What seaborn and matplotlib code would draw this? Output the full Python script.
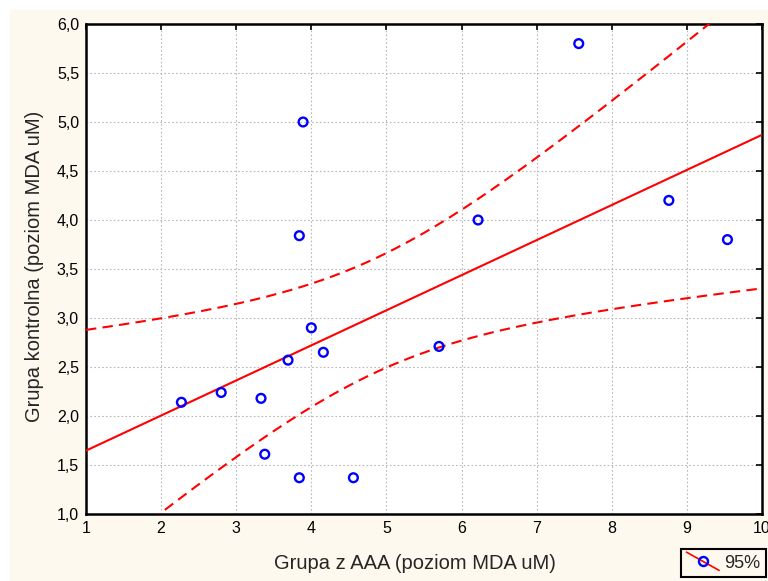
import numpy as np
import pandas as pd
import matplotlib
matplotlib.use("Agg")
import matplotlib.pyplot as plt
import seaborn as sns
from matplotlib.lines import Line2D
from matplotlib.legend_handler import HandlerBase
from matplotlib.patches import Rectangle
from matplotlib.ticker import FuncFormatter

# ---- data ----
x_aaa = [2.27, 2.80, 3.33, 3.38, 3.69, 3.84, 3.84, 3.89, 4.00, 4.16, 4.56, 5.70, 6.22, 7.56, 8.76, 9.54]
y_ctrl = [2.14, 2.24, 2.18, 1.61, 2.57, 1.37, 3.84, 5.00, 2.90, 2.65, 1.37, 2.71, 4.00, 5.80, 4.20, 3.80]
x_ticks = [1, 2, 3, 4, 5, 6, 7, 8, 9, 10]
y_ticks = [1.0, 1.5, 2.0, 2.5, 3.0, 3.5, 4.0, 4.5, 5.0, 5.5, 6.0]
x_label = "Grupa z AAA (poziom MDA uM)"
y_label = "Grupa kontrolna (poziom MDA uM)"
legend_label = "95%"

df = pd.DataFrame({"x": x_aaa, "y": y_ctrl})

# ---- linear fit and 95% confidence band for the mean ----
xa = np.asarray(x_aaa); ya = np.asarray(y_ctrl)
n = len(xa)
b1, b0 = np.polyfit(xa, ya, 1)
resid = ya - (b0 + b1 * xa)
s = np.sqrt(np.sum(resid ** 2) / (n - 2))
sxx = np.sum((xa - xa.mean()) ** 2)
t_crit = 2.1448  # t(0.975, df=14)
xg = np.linspace(1, 10, 200)
yg = b0 + b1 * xg
half = t_crit * s * np.sqrt(1.0 / n + (xg - xa.mean()) ** 2 / sxx)
fit_df = pd.DataFrame({"x": xg, "fit": yg, "lo": yg - half, "hi": yg + half})

# ---- figure ----
sns.set_style("white")
plt.rcParams["font.family"] = ["Liberation Sans", "DejaVu Sans"]
bg = "#FDF9EE"
fig = plt.figure(figsize=(7.68, 5.81), dpi=100, facecolor="white")
fig.patches.append(Rectangle((10 / 768, 0), 1, 1 - 10 / 581, transform=fig.transFigure,
                             facecolor=bg, edgecolor="none", zorder=-10))
ax = fig.add_axes([86 / 768, 1 - 514 / 581, (762 - 86) / 768, (514 - 24) / 581])
ax.set_facecolor("white")

sns.lineplot(data=fit_df, x="x", y="fit", ax=ax, color="red", lw=1.5, sort=False, zorder=3)
sns.lineplot(data=fit_df, x="x", y="lo", ax=ax, color="red", lw=1.5, sort=False, zorder=3)
ax.lines[-1].set_dashes((5, 3))
sns.lineplot(data=fit_df, x="x", y="hi", ax=ax, color="red", lw=1.5, sort=False, zorder=3)
ax.lines[-1].set_dashes((5, 3))
sns.scatterplot(data=df, x="x", y="y", ax=ax, marker="o", s=40, facecolor="none",
                edgecolor="blue", linewidth=1.7, zorder=4)

ax.set_xlim(1, 10)
ax.set_ylim(1.0, 6.0)
ax.set_xticks(x_ticks)
ax.set_yticks(y_ticks)
ax.yaxis.set_major_formatter(FuncFormatter(lambda v, p: f"{v:.1f}".replace(".", ",")))
ax.tick_params(direction="in", length=4, width=1.2, colors="black", labelsize=11.5,
               top=True, right=True, labelcolor="black", pad=5)
ax.grid(True, color="#b8b8b8", linestyle=(0, (1.5, 2)), linewidth=0.8)
for sp in ax.spines.values():
    sp.set_color("black")
    sp.set_linewidth(1.8)
ax.set_xlabel(x_label, fontsize=14.5)
ax.set_ylabel(y_label, fontsize=14.5)
ax.xaxis.set_label_coords((415 - 86) / 676, -(554 - 514) / 490)
ax.yaxis.set_label_coords(-(86 - 44) / 676, 0.5 - (266 - 269) / 490)


class DiagHandler(HandlerBase):
    def create_artists(self, legend, orig_handle, xdescent, ydescent, width, height, fontsize, trans):
        x0, x1 = -xdescent, -xdescent + width
        y0, y1 = -ydescent, -ydescent + height
        ln = Line2D([x0, x1], [y1 + 2, y0 - 2], color="red", lw=1.2, transform=trans)
        mk = Line2D([(x0 + x1) / 2], [(y0 + y1) / 2], marker="o", ms=6.5, mfc="none",
                    mec="blue", mew=1.7, linestyle="none", transform=trans)
        return [ln, mk]


handle = Line2D([], [], color="red")
leg = fig.legend([handle], [legend_label], handler_map={Line2D: DiagHandler()},
                 loc="lower right", bbox_to_anchor=(766 / 768, 4 / 581),
                 fontsize=13, frameon=True, fancybox=False, handlelength=1.8,
                 handletextpad=0.3, borderpad=0.3, borderaxespad=0)
leg.get_frame().set_edgecolor("black")
leg.get_frame().set_linewidth(1.5)
leg.get_frame().set_facecolor(bg)
leg.get_frame().set_alpha(1)

fig.savefig("out.png", dpi=100, facecolor="white")
